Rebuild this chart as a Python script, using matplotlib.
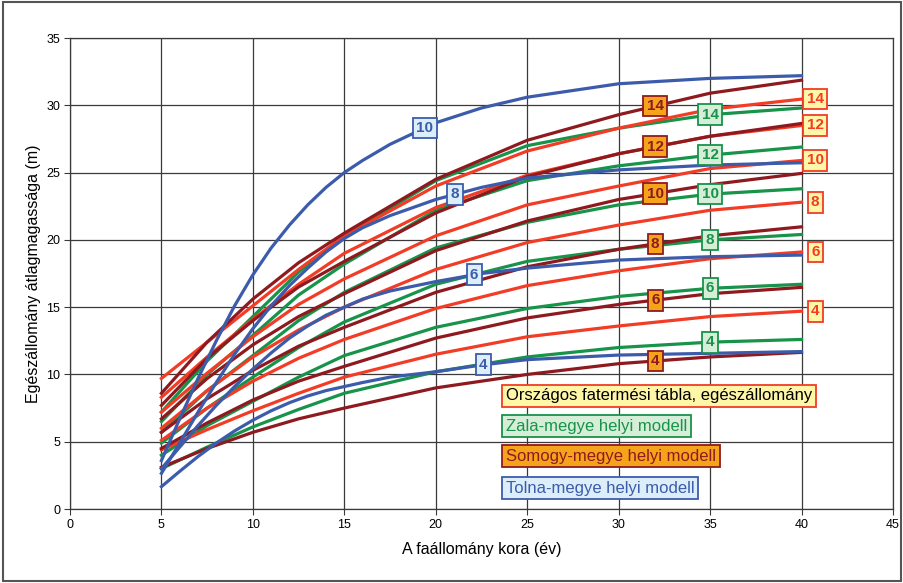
import numpy as np
import matplotlib.pyplot as plt
from matplotlib.patches import Rectangle

# kor (év) - közös mintavételi pontok
kor = [5, 7.5, 10, 12.5, 15, 20, 25, 30, 35, 40]

# Országos fatermési tábla (piros)
orszagos = {
    14: [9.7, 12.4, 15.1, 17.8, 20.3, 24.0, 26.6, 28.3, 29.7, 30.46],
    12: [8.3, 11.3, 14.1, 16.7, 19.0, 22.4, 24.8, 26.4, 27.7, 28.5],
    10: [7.2, 10.1, 12.8, 15.2, 17.1, 20.3, 22.6, 24.0, 25.3, 25.9],
    8: [6.0, 8.8, 11.3, 13.3, 15.0, 17.8, 19.8, 21.1, 22.2, 22.8],
    6: [5.1, 7.5, 9.5, 11.2, 12.6, 14.9, 16.6, 17.7, 18.6, 19.1],
    4: [4.4, 5.9, 7.3, 8.6, 9.8, 11.5, 12.8, 13.6, 14.3, 14.7],
}

# Zala-megye (zöld)
zala = {
    14: [7.2, 11.0, 14.3, 17.6, 20.3, 24.4, 27.0, 28.3, 29.3, 29.8],
    12: [6.5, 10.0, 12.9, 15.9, 18.2, 22.2, 24.4, 25.5, 26.3, 26.9],
    10: [5.7, 8.8, 11.4, 14.0, 16.1, 19.4, 21.3, 22.6, 23.4, 23.8],
    8: [4.9, 7.5, 9.8, 12.0, 13.9, 16.7, 18.4, 19.3, 20.0, 20.4],
    6: [4.0, 6.2, 8.0, 9.8, 11.4, 13.5, 14.9, 15.8, 16.4, 16.7],
    4: [3.0, 4.6, 6.1, 7.4, 8.6, 10.2, 11.3, 12.0, 12.4, 12.6],
}

# Somogy-megye (bordó)
somogy = {
    14: [8.6, 12.4, 15.6, 18.3, 20.5, 24.5, 27.4, 29.3, 30.9, 31.87],
    12: [7.7, 11.2, 14.0, 16.5, 18.4, 22.0, 24.7, 26.4, 27.7, 28.65],
    10: [6.7, 9.7, 12.2, 14.3, 16.0, 19.2, 21.4, 23.0, 24.1, 24.94],
    8: [5.7, 8.2, 10.3, 12.1, 13.5, 16.1, 18.0, 19.3, 20.3, 20.97],
    6: [4.5, 6.4, 8.1, 9.5, 10.6, 12.7, 14.2, 15.2, 16.0, 16.47],
    4: [3.1, 4.5, 5.7, 6.7, 7.5, 9.0, 10.0, 10.8, 11.3, 11.64],
}

# Tolna-megye (kék)
kor_tolna = [5, 6, 7, 8, 9, 10, 11, 12, 13, 14, 15, 16, 17.5, 20, 22.5, 25, 30, 35, 40]
tolna = {
    10: [3.6, 6.7, 9.7, 12.5, 15.1, 17.4, 19.4, 21.1, 22.6, 23.9, 25.0, 25.9, 27.1,
         28.7, 29.8, 30.6, 31.6, 32.0, 32.2],
    8: [2.65, 4.9, 7.2, 9.4, 11.5, 13.4, 15.1, 16.6, 17.9, 19.1, 20.1, 20.9, 21.8,
        23.0, 23.9, 24.6, 25.2, 25.56, 25.73],
    6: [3.0, 4.6, 6.2, 7.7, 9.1, 10.4, 11.6, 12.7, 13.6, 14.4, 15.0, 15.6, 16.2,
        16.9, 17.5, 17.9, 18.5, 18.75, 18.87],
    4: [1.66, 2.8, 3.9, 4.9, 5.8, 6.6, 7.3, 7.9, 8.4, 8.8, 9.1, 9.4, 9.8,
        10.2, 10.7, 11.1, 11.44, 11.57, 11.7],
}

piros = '#f23c26'
zold = '#17934a'
bordo = '#8e1a1f'
kek = '#3c5cab'

plt.rcParams['font.family'] = ['Liberation Sans', 'DejaVu Sans']

fig = plt.figure(figsize=(9.04, 5.83), dpi=100)
ax = fig.add_axes([0.0774, 0.1269, 0.9104, 0.8079])

lw = 2.3
for k in [14, 12, 10, 8, 6, 4]:
    ax.plot(kor, zala[k], color=zold, lw=lw, zorder=3)
for k in [14, 12, 10, 8, 6, 4]:
    ax.plot(kor, orszagos[k], color=piros, lw=lw, zorder=3)
for k in [14, 12, 10, 8, 6, 4]:
    ax.plot(kor, somogy[k], color=bordo, lw=lw, zorder=3)
for k in [10, 8, 6, 4]:
    ax.plot(kor_tolna, tolna[k], color=kek, lw=lw, zorder=3)


def cimke(x, y, s, szin, hatter, keret):
    ax.text(x, y, s, color=szin, fontsize=11, fontweight='bold', ha='center', va='center',
            zorder=6, bbox=dict(boxstyle='square,pad=0.22', fc=hatter, ec=keret, lw=1.3))


# címkék
for k in orszagos:
    cimke(40.75, orszagos[k][-1], str(k), piros, '#fff7a8', piros)
for k in zala:
    cimke(35, np.interp(35, kor, zala[k]), str(k), zold, '#d6eed8', zold)
for k in somogy:
    cimke(32, np.interp(32, kor, somogy[k]), str(k), bordo, '#f6a31c', bordo)
tolna_cimke_x = {10: 19.4, 8: 21.05, 6: 22.1, 4: 22.6}
for k in tolna:
    x = tolna_cimke_x[k]
    cimke(x, np.interp(x, kor_tolna, tolna[k]), str(k), kek, '#dbeefa', kek)

# jelmagyarázat dobozok
jel = [
    ('Országos fatermési tábla, egészállomány', 8.4, 'black', '#fff7a8', piros),
    ('Zala-megye helyi modell', 6.15, zold, '#d6eed8', zold),
    ('Somogy-megye helyi modell', 3.92, bordo, '#f6a31c', bordo),
    ('Tolna-megye helyi modell', 1.55, kek, '#dbeefa', kek),
]
for s, y, szin, hatter, keret in jel:
    ax.text(23.85, y, s, color=szin, fontsize=12, ha='left', va='center', zorder=7,
            bbox=dict(boxstyle='square,pad=0.22', fc=hatter, ec=keret, lw=1.3))

ax.set_xlim(0, 45)
ax.set_ylim(0, 35)
ax.set_xticks(np.arange(0, 46, 5))
ax.set_yticks(np.arange(0, 36, 5))
ax.grid(True, color='#3a3a3a', lw=0.9, zorder=0)
ax.set_axisbelow(True)
ax.tick_params(labelsize=9, length=4, color='#3a3a3a', pad=3)
for sp in ax.spines.values():
    sp.set_color('#3a3a3a')
    sp.set_linewidth(0.9)

ax.set_xlabel('A faállomány kora (év)', fontsize=11.5, labelpad=8)
ax.set_ylabel('Egészállomány átlagmagassága (m)', fontsize=11.5, labelpad=4)

fig.patches.append(Rectangle((0.003, 0.004), 0.994, 0.992, transform=fig.transFigure,
                             fill=False, ec='#555555', lw=1.5))

fig.savefig('out.png', dpi=100)
